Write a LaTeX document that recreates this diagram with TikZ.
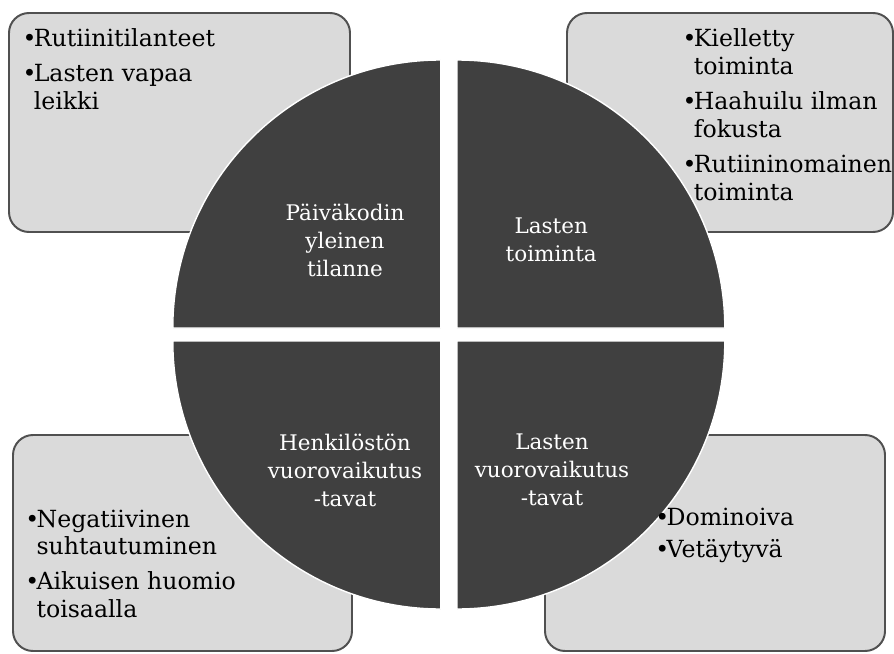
\documentclass[tikz,border=0pt]{standalone}
\usepackage{fontspec}
\setmainfont{DejaVu Serif}
\definecolor{boxfill}{RGB}{218, 218, 218}
\definecolor{boxline}{RGB}{80, 80, 80}
\definecolor{quadfill}{RGB}{64, 64, 64}
\usetikzlibrary{positioning}

\tikzset{
  infobox/.style={draw=boxline, fill=boxfill, line width=1.4pt, rounded corners=0.5cm},
  quad/.style={fill=quadfill, draw=white, line width=1pt},
  quadtext/.style={text=white, align=center, inner sep=0pt, font=\rmfamily\fontsize{15.3}{19.9}\selectfont},
  listtext/.style={anchor=base west, inner sep=0pt, font=\rmfamily\fontsize{16.8}{19.8}\selectfont}
}

\begin{document}
\begin{tikzpicture}
  \useasboundingbox (0, 0) rectangle (22.35, 16.325);

  % boxes behind the circle
  \draw[infobox] (0.225, 10.525) rectangle (8.75, 16.0);
  \draw[infobox] (14.175, 10.525) rectangle (22.325, 16.0);
  \draw[infobox] (0.325, 0.05) rectangle (8.8, 5.45);
  \draw[infobox] (13.625, 0.05) rectangle (22.125, 5.45);

  % four quarters of the circle
  \draw[quad] (11.02, 8.125) -- ++(-6.7, 0) arc[start angle=180, end angle=90, radius=6.7] -- cycle;
  \draw[quad] (11.42, 8.125) -- ++(6.7, 0) arc[start angle=0, end angle=90, radius=6.7] -- cycle;
  \draw[quad] (11.02, 7.8) -- ++(-6.7, 0) arc[start angle=180, end angle=270, radius=6.7] -- cycle;
  \draw[quad] (11.42, 7.8) -- ++(6.7, 0) arc[start angle=0, end angle=-90, radius=6.7] -- cycle;

  \node[quadtext] (yleinen) at (8.625, 10.325) {Päiväkodin\\yleinen\\tilanne};
  \node[quadtext] (toiminta) at (13.78, 10.325) {Lasten\\toiminta};
  \node[quadtext] (henkilosto) at (8.625, 4.575) {Henkilöstön\\vuorovaikutus\\-tavat};
  \node[quadtext] (lapset) at (13.8, 4.575) {Lasten\\vuorovaikutus\\-tavat};

  % bullet lists
  \node[listtext] (listyleinen) at (0.56, 15.15) {%
    \begin{tabular}[t]{@{}l@{\kern-2pt}l@{}}
      \textbullet & Rutiinitilanteet\\[5pt]
      \textbullet & Lasten vapaa\\
                  & leikki
    \end{tabular}};
  \node[listtext] (listtoiminta) at (17.06, 15.15) {%
    \begin{tabular}[t]{@{}l@{\kern-2pt}l@{}}
      \textbullet & Kielletty\\
                  & toiminta\\[5pt]
      \textbullet & Haahuilu ilman\\
                  & fokusta\\[5pt]
      \textbullet & Rutiininomainen\\
                  & toiminta
    \end{tabular}};
  \node[listtext] (listhenkilosto) at (0.63, 3.15) {%
    \begin{tabular}[t]{@{}l@{\kern-2pt}l@{}}
      \textbullet & Negatiivinen\\
                  & suhtautuminen\\[5pt]
      \textbullet & Aikuisen huomio\\
                  & toisaalla
    \end{tabular}};
  \node[listtext] (listlapset) at (16.38, 3.2) {%
    \begin{tabular}[t]{@{}l@{\kern-2pt}l@{}}
      \textbullet & Dominoiva\\[3pt]
      \textbullet & Vetäytyvä
    \end{tabular}};
\end{tikzpicture}
\end{document}
